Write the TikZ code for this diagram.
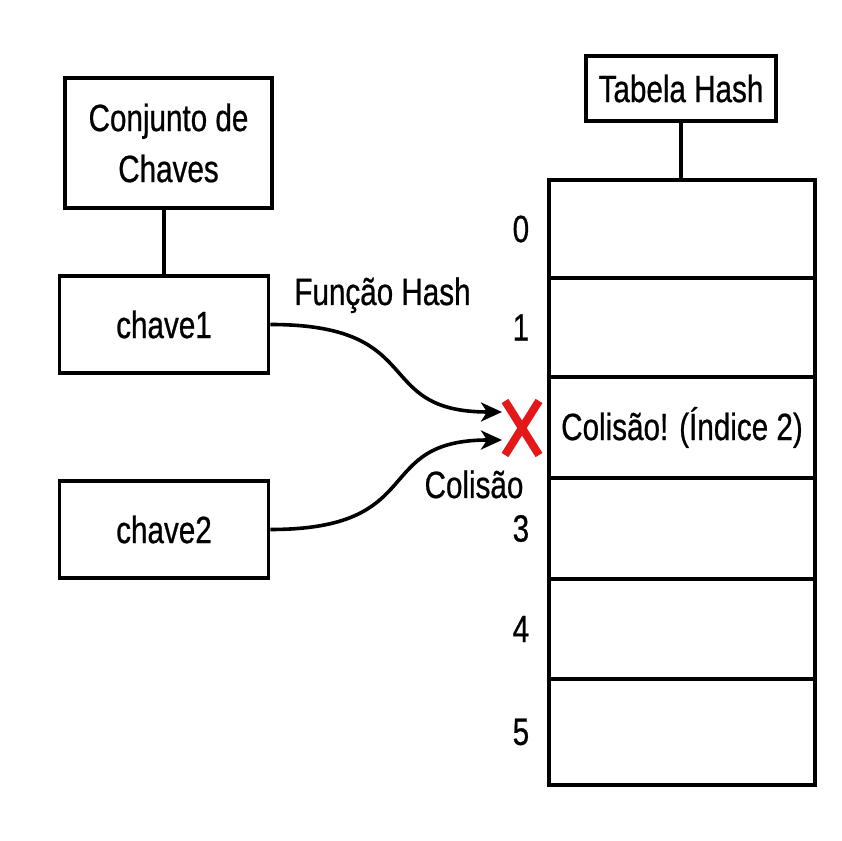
\documentclass[tikz,border=0pt]{standalone}
\usepackage{fontspec}
\setmainfont{Liberation Sans}[FakeStretch=0.78,FakeBold=0.6]
\usetikzlibrary{arrows.meta,calc}

\definecolor{markred}{RGB}{228,24,24}

\begin{document}
\begin{tikzpicture}[x=1pt,y=1pt,
  box/.style={draw, line width=3.8pt, inner sep=0pt, align=center,
              font=\fontsize{38}{51}\selectfont},
  cell/.style={draw, line width=4.2pt, inner sep=0pt, minimum width=266pt,
               font=\fontsize{38}{51}\selectfont},
  lbl/.style={inner sep=0pt, font=\fontsize{38}{51}\selectfont},
  link/.style={line width=3.2pt},
  flow/.style={line width=3.6pt, -{Stealth[length=21pt,width=19pt,inset=6pt]}},
  xmark/.style={draw=markred, line width=8pt},
]
\useasboundingbox (0,0) rectangle (842,840);
\fill[white] (0,0) rectangle (842,840);

% key set and keys
\node[box, minimum width=207pt, minimum height=130pt] (set) at (168.5,697) {Conjunto de\\Chaves};
\node[box, minimum width=209pt, minimum height=97pt] (k1) at (164,515.5) {chave1};
\node[box, minimum width=209pt, minimum height=97pt] (k2) at (164,310.5) {chave2};
\draw[link] (k1.north) -- (k1.north |- set.south);

% hash table
\node[box, minimum width=190pt, minimum height=65pt] (tab) at (681,751.5) {Tabela Hash};
\node[cell, minimum height=98pt]  (r0) at (682,611)   {};
\node[cell, minimum height=99pt]  (r1) at (682,512.5) {};
\node[cell, minimum height=101pt] (r2) at (682,412.5) {Colisão! (Índice 2)};
\node[cell, minimum height=101pt] (r3) at (682,311.5) {};
\node[cell, minimum height=100pt] (r4) at (682,211)   {};
\node[cell, minimum height=106pt] (r5) at (682,108)   {};
\draw[link] (tab.south) -- (tab.south |- r0.north);

% slot indices
\node[lbl] (i0) at ($(r0.west)+(-26,0)$) {0};
\node[lbl] (i1) at ($(r1.west)+(-26,0)$) {1};
\node[lbl] (i3) at ($(r3.west)+(-26,0)$) {3};
\node[lbl] (i4) at ($(r4.west)+(-26,0)$) {4};
\node[lbl] (i5) at ($(r5.west)+(-26,0)$) {5};

% both keys land on slot 2
\coordinate (hit1) at (502,428);
\coordinate (hit2) at (502,400);
\draw[flow] (k1.east) .. controls (430,515.5) and (370,428) .. (hit1);
\draw[flow] (k2.east) .. controls (430,310.5) and (370,400) .. (hit2);
\node[lbl, anchor=base] (fn) at (382.5,535) {Função Hash};
\node[lbl, anchor=base] (col) at (474,342) {Colisão};

% collision mark
\coordinate (cx) at (522,412);
\draw[xmark] ($(cx)+(-17,27)$) -- ($(cx)+(17,-27)$);
\draw[xmark] ($(cx)+(17,27)$) -- ($(cx)+(-17,-27)$);
\end{tikzpicture}
\end{document}
